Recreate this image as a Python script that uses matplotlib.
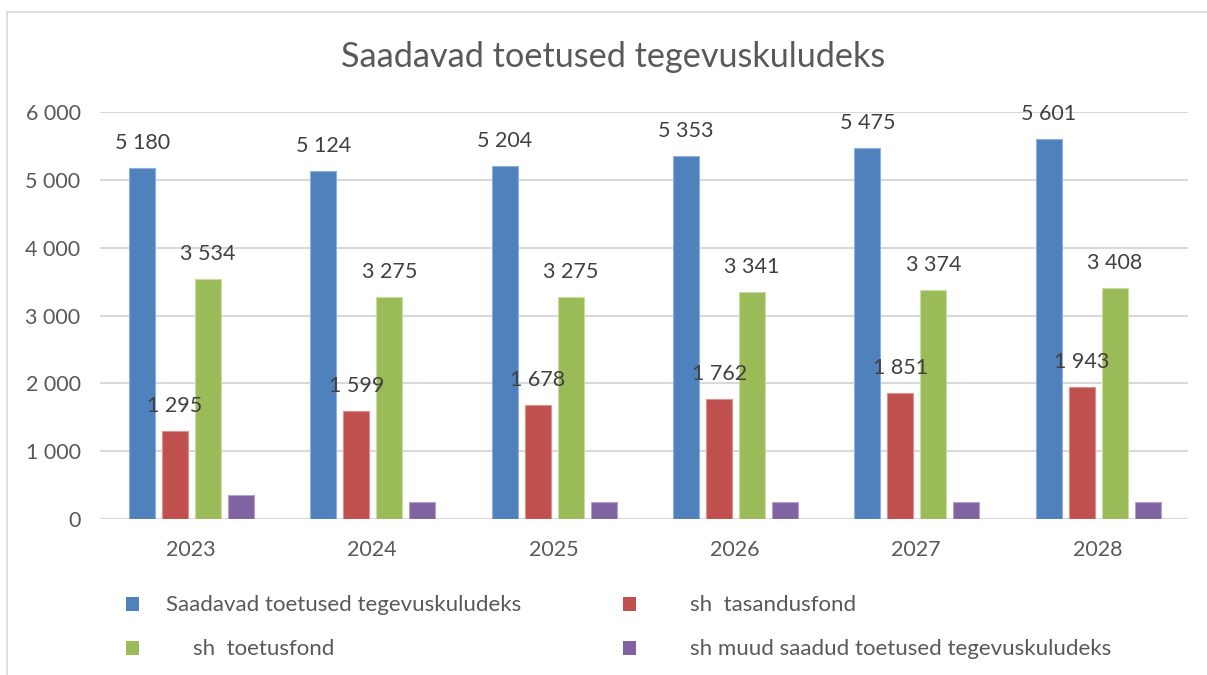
import matplotlib
matplotlib.use("Agg")
import matplotlib.pyplot as plt
import numpy as np
from matplotlib.patches import Rectangle

years = ["2023", "2024", "2025", "2026", "2027", "2028"]
series_names = ["Saadavad toetused tegevuskuludeks", "sh  tasandusfond",
                "sh  toetusfond", "sh muud saadud toetused tegevuskuludeks"]
saadavad = [5180, 5124, 5204, 5353, 5475, 5601]
tasandusfond = [1295, 1599, 1678, 1762, 1851, 1943]
toetusfond = [3534, 3275, 3275, 3341, 3374, 3408]
muud = [350, 250, 250, 250, 250, 250]
yticks = [0, 1000, 2000, 3000, 4000, 5000, 6000]
ytick_labels = ["0", "1 000", "2 000", "3 000", "4 000", "5 000", "6 000"]

colors = ["#4F81BD", "#C0504D", "#9BBB59", "#8064A2"]
edge_colors = ["#8FB0DA", "#E0908E", "#C8DDA0", "#B3A0CC"]
data = [saadavad, tasandusfond, toetusfond, muud]
show_labels = [True, True, True, False]

plt.rcParams['font.family'] = ['Lato', 'DejaVu Sans']

W, H = 1207, 675
fig = plt.figure(figsize=(W / 100, H / 100), dpi=100)

# chart frame
fig.patches.append(Rectangle((7 / W, -0.05), 1.2, (H - 12) / H + 0.05,
                             transform=fig.transFigure, fill=False,
                             edgecolor="#D9D9D9", linewidth=1.2))

ax = fig.add_axes([100 / W, 1 - 519 / H, 1088 / W, 407 / H])
x = np.arange(len(years))
slot = 0.182
bw = 0.143
for k, (vals, c, ec, lab) in enumerate(zip(data, colors, edge_colors, show_labels)):
    offs = (k - 1.5) * slot
    bars = ax.bar(x + offs + 0.005, vals, width=bw, color=c, edgecolor=ec, linewidth=0.8, zorder=3)
    if lab:
        for b, v in zip(bars, vals):
            s = f"{v:,}".replace(",", " ")
            ax.annotate(s, (b.get_x() + b.get_width() / 2, v), xytext=(0, 18),
                        textcoords="offset points", ha="center", va="center",
                        fontsize=15.5, color="#404040", zorder=4)

ax.set_xlim(-0.5, len(years) - 0.5)
ax.set_ylim(0, 6000)
ax.set_yticks(yticks)
ax.set_yticklabels(ytick_labels, fontsize=15.5, color="#595959")
ax.set_xticks(x)
ax.set_xticklabels(years, fontsize=15.5, color="#595959")
ax.tick_params(axis="both", length=0)
ax.tick_params(axis="y", pad=14)
ax.tick_params(axis="x", pad=15)
ax.grid(axis="y", color="#D9D9D9", linewidth=1.5, zorder=0)
for sp in ax.spines.values():
    sp.set_visible(False)
ax.axhline(0, color="#D9D9D9", linewidth=1.5, zorder=2)

fig.text(613 / W, 1 - 57 / H, "Saadavad toetused tegevuskuludeks",
         ha="center", va="center", fontsize=24.7, color="#595959")

# legend
leg_pos = [(126, 604, 166), (623, 604, 690), (126, 648, 193), (623, 648, 690)]
for (mx, my, tx), name, c in zip(leg_pos, series_names, colors):
    fig.patches.append(Rectangle((mx / W, 1 - (my + 7) / H), 13 / W, 14 / H,
                                 transform=fig.transFigure, facecolor=c, edgecolor="none"))
    fig.text(tx / W, 1 - (my + 1) / H, name, ha="left", va="center",
             fontsize=16, color="#595959")

fig.savefig("out.png", dpi=100)
